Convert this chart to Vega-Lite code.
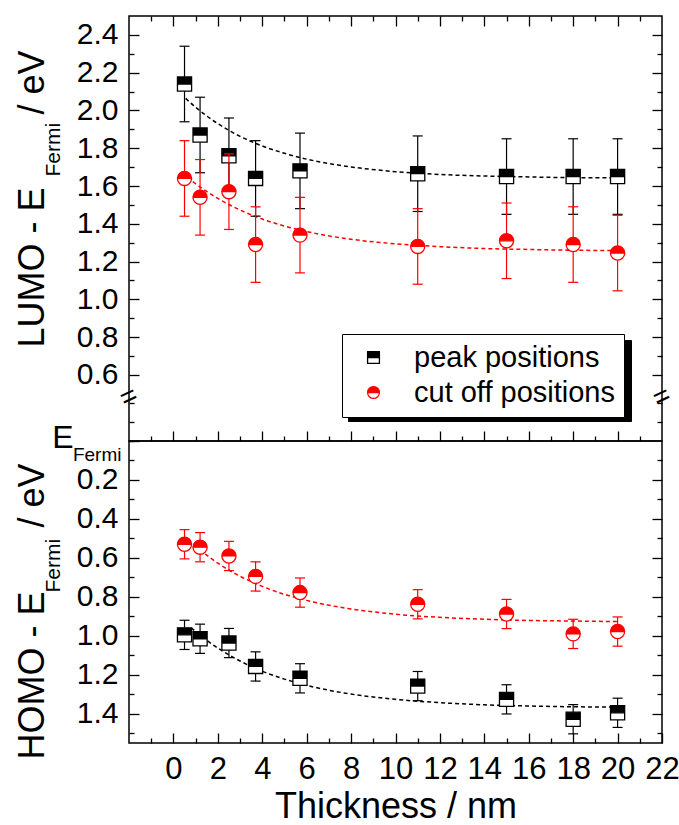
{
  "$schema": "https://vega.github.io/schema/vega-lite/v6.json",
  "padding": {"left": 13, "top": 14, "right": 5, "bottom": 0},
  "spacing": 0,
  "bounds": "flush",
  "config": {
    "font": "Liberation Sans",
    "view": {"stroke": "black", "strokeWidth": 1.5},
    "axis": {"tickColor": "black", "tickWidth": 1.3, "labelColor": "black", "titleColor": "black", "titleFontWeight": "normal", "labelFont": "Liberation Sans", "titleFont": "Liberation Sans", "grid": false, "domain": false, "labelOverlap": false}
  },
  "datasets": {
    "lumo": [
      {"series": "peak positions", "x": 0.5, "y": 2.14, "lo": 1.94, "hi": 2.34},
      {"series": "peak positions", "x": 1.2, "y": 1.87, "lo": 1.67, "hi": 2.07},
      {"series": "peak positions", "x": 2.5, "y": 1.76, "lo": 1.56, "hi": 1.96},
      {"series": "peak positions", "x": 3.7, "y": 1.64, "lo": 1.44, "hi": 1.84},
      {"series": "peak positions", "x": 5.7, "y": 1.68, "lo": 1.48, "hi": 1.88},
      {"series": "peak positions", "x": 11, "y": 1.665, "lo": 1.465, "hi": 1.865},
      {"series": "peak positions", "x": 15, "y": 1.65, "lo": 1.45, "hi": 1.85},
      {"series": "peak positions", "x": 18, "y": 1.65, "lo": 1.45, "hi": 1.85},
      {"series": "peak positions", "x": 20, "y": 1.65, "lo": 1.45, "hi": 1.85},
      {"series": "cut off positions", "x": 0.5, "y": 1.64, "lo": 1.44, "hi": 1.84},
      {"series": "cut off positions", "x": 1.2, "y": 1.54, "lo": 1.34, "hi": 1.74},
      {"series": "cut off positions", "x": 2.5, "y": 1.57, "lo": 1.37, "hi": 1.77},
      {"series": "cut off positions", "x": 3.7, "y": 1.29, "lo": 1.09, "hi": 1.49},
      {"series": "cut off positions", "x": 5.7, "y": 1.34, "lo": 1.14, "hi": 1.54},
      {"series": "cut off positions", "x": 11, "y": 1.28, "lo": 1.08, "hi": 1.48},
      {"series": "cut off positions", "x": 15, "y": 1.31, "lo": 1.11, "hi": 1.51},
      {"series": "cut off positions", "x": 18, "y": 1.29, "lo": 1.09, "hi": 1.49},
      {"series": "cut off positions", "x": 20, "y": 1.245, "lo": 1.045, "hi": 1.445}
    ],
    "homo": [
      {"series": "peak positions", "x": 0.5, "y": 0.995, "lo": 0.92, "hi": 1.07},
      {"series": "peak positions", "x": 1.2, "y": 1.015, "lo": 0.94, "hi": 1.09},
      {"series": "peak positions", "x": 2.5, "y": 1.037, "lo": 0.962, "hi": 1.112},
      {"series": "peak positions", "x": 3.7, "y": 1.157, "lo": 1.082, "hi": 1.232},
      {"series": "peak positions", "x": 5.7, "y": 1.218, "lo": 1.143, "hi": 1.293},
      {"series": "peak positions", "x": 11, "y": 1.258, "lo": 1.183, "hi": 1.333},
      {"series": "peak positions", "x": 15, "y": 1.326, "lo": 1.251, "hi": 1.401},
      {"series": "peak positions", "x": 18, "y": 1.428, "lo": 1.353, "hi": 1.503},
      {"series": "peak positions", "x": 20, "y": 1.395, "lo": 1.32, "hi": 1.47},
      {"series": "cut off positions", "x": 0.5, "y": 0.53, "lo": 0.455, "hi": 0.605},
      {"series": "cut off positions", "x": 1.2, "y": 0.545, "lo": 0.47, "hi": 0.62},
      {"series": "cut off positions", "x": 2.5, "y": 0.59, "lo": 0.515, "hi": 0.665},
      {"series": "cut off positions", "x": 3.7, "y": 0.695, "lo": 0.62, "hi": 0.77},
      {"series": "cut off positions", "x": 5.7, "y": 0.778, "lo": 0.703, "hi": 0.853},
      {"series": "cut off positions", "x": 11, "y": 0.838, "lo": 0.763, "hi": 0.913},
      {"series": "cut off positions", "x": 15, "y": 0.888, "lo": 0.813, "hi": 0.963},
      {"series": "cut off positions", "x": 18, "y": 0.99, "lo": 0.915, "hi": 1.065},
      {"series": "cut off positions", "x": 20, "y": 0.978, "lo": 0.903, "hi": 1.053}
    ],
    "lumofit": [
      {"series": "peak positions", "x": 0.55, "y": 2.064},
      {"series": "peak positions", "x": 1, "y": 2.017},
      {"series": "peak positions", "x": 1.5, "y": 1.971},
      {"series": "peak positions", "x": 2, "y": 1.93},
      {"series": "peak positions", "x": 3, "y": 1.863},
      {"series": "peak positions", "x": 4, "y": 1.812},
      {"series": "peak positions", "x": 5, "y": 1.773},
      {"series": "peak positions", "x": 6, "y": 1.742},
      {"series": "peak positions", "x": 7, "y": 1.719},
      {"series": "peak positions", "x": 8, "y": 1.701},
      {"series": "peak positions", "x": 10, "y": 1.676},
      {"series": "peak positions", "x": 12, "y": 1.661},
      {"series": "peak positions", "x": 14, "y": 1.653},
      {"series": "peak positions", "x": 16, "y": 1.648},
      {"series": "peak positions", "x": 18, "y": 1.644},
      {"series": "peak positions", "x": 20, "y": 1.643},
      {"series": "cut off positions", "x": 0.875, "y": 1.623},
      {"series": "cut off positions", "x": 1, "y": 1.612},
      {"series": "cut off positions", "x": 1.5, "y": 1.571},
      {"series": "cut off positions", "x": 2, "y": 1.534},
      {"series": "cut off positions", "x": 3, "y": 1.473},
      {"series": "cut off positions", "x": 4, "y": 1.425},
      {"series": "cut off positions", "x": 5, "y": 1.388},
      {"series": "cut off positions", "x": 6, "y": 1.359},
      {"series": "cut off positions", "x": 7, "y": 1.336},
      {"series": "cut off positions", "x": 8, "y": 1.318},
      {"series": "cut off positions", "x": 10, "y": 1.294},
      {"series": "cut off positions", "x": 12, "y": 1.279},
      {"series": "cut off positions", "x": 14, "y": 1.269},
      {"series": "cut off positions", "x": 16, "y": 1.264},
      {"series": "cut off positions", "x": 18, "y": 1.26},
      {"series": "cut off positions", "x": 20, "y": 1.258}
    ],
    "homofit": [
      {"series": "peak positions", "x": 0.8, "y": 0.959},
      {"series": "peak positions", "x": 1, "y": 0.978},
      {"series": "peak positions", "x": 1.5, "y": 1.023},
      {"series": "peak positions", "x": 2, "y": 1.063},
      {"series": "peak positions", "x": 3, "y": 1.129},
      {"series": "peak positions", "x": 4, "y": 1.182},
      {"series": "peak positions", "x": 5, "y": 1.222},
      {"series": "peak positions", "x": 6, "y": 1.254},
      {"series": "peak positions", "x": 7, "y": 1.279},
      {"series": "peak positions", "x": 8, "y": 1.299},
      {"series": "peak positions", "x": 10, "y": 1.326},
      {"series": "peak positions", "x": 12, "y": 1.343},
      {"series": "peak positions", "x": 14, "y": 1.354},
      {"series": "peak positions", "x": 16, "y": 1.36},
      {"series": "peak positions", "x": 18, "y": 1.364},
      {"series": "peak positions", "x": 20, "y": 1.366},
      {"series": "cut off positions", "x": 1.18, "y": 0.558},
      {"series": "cut off positions", "x": 1.5, "y": 0.586},
      {"series": "cut off positions", "x": 2, "y": 0.627},
      {"series": "cut off positions", "x": 3, "y": 0.694},
      {"series": "cut off positions", "x": 4, "y": 0.746},
      {"series": "cut off positions", "x": 5, "y": 0.787},
      {"series": "cut off positions", "x": 6, "y": 0.818},
      {"series": "cut off positions", "x": 7, "y": 0.843},
      {"series": "cut off positions", "x": 8, "y": 0.862},
      {"series": "cut off positions", "x": 10, "y": 0.889},
      {"series": "cut off positions", "x": 12, "y": 0.905},
      {"series": "cut off positions", "x": 14, "y": 0.915},
      {"series": "cut off positions", "x": 16, "y": 0.921},
      {"series": "cut off positions", "x": 18, "y": 0.924},
      {"series": "cut off positions", "x": 20, "y": 0.927}
    ]
  },
  "vconcat": [
    {
      "width": 533,
      "height": 425,
      "resolve": {"axis": {"x": "independent", "y": "independent"}},
      "layer": [
        {
          "data": {"name": "lumofit"},
          "transform": [{"filter": {"field": "series", "equal": "peak positions"}}],
          "mark": {"type": "line", "color": "black", "strokeDash": [4, 3], "strokeWidth": 1.5, "interpolate": "monotone"},
          "encoding": {
            "x": {"field": "x", "type": "quantitative", "scale": {"domain": [-2, 22], "nice": false, "zero": false}, "axis": {"orient": "bottom", "values": [0, 2, 4, 6, 8, 10, 12, 14, 16, 18, 20], "tickSize": -10, "labels": false, "title": null}},
            "y": {"field": "y", "type": "quantitative", "scale": {"domain": [0.25, 2.5], "nice": false, "zero": false}, "axis": {"orient": "left", "values": [0.6, 0.8, 1.0, 1.2, 1.4, 1.6, 1.8, 2.0, 2.2, 2.4], "format": ".1f", "tickSize": -10, "labelFontSize": 30, "labelPadding": 21, "title": "LUMO - E", "titleFontSize": 36, "titleAngle": 270, "titleAlign": "left", "titleBaseline": "alphabetic", "titleX": -86, "titleY": 331}}
          }
        },
        {
          "data": {"name": "lumofit"},
          "transform": [{"filter": {"field": "series", "equal": "cut off positions"}}],
          "mark": {"type": "line", "color": "#ff0000", "strokeDash": [4, 3], "strokeWidth": 1.5, "interpolate": "monotone"},
          "encoding": {
            "x": {"field": "x", "type": "quantitative", "scale": {"domain": [-2, 22], "nice": false, "zero": false}, "axis": {"orient": "bottom", "values": [-1, 1, 3, 5, 7, 9, 11, 13, 15, 17, 19, 21], "tickSize": -5, "labels": false, "title": null}},
            "y": {"field": "y", "type": "quantitative", "scale": {"domain": [0.25, 2.5], "nice": false, "zero": false}, "axis": {"orient": "left", "values": [0.35, 0.45, 0.7, 0.9, 1.1, 1.3, 1.5, 1.7, 1.9, 2.1, 2.3], "tickSize": -5, "labels": false, "title": "Fermi", "titleFontSize": 21, "titleAngle": 270, "titleAlign": "left", "titleBaseline": "alphabetic", "titleX": -70, "titleY": 160}}
          }
        },
        {
          "data": {"name": "lumo"},
          "transform": [{"filter": {"field": "series", "equal": "peak positions"}}],
          "mark": {"type": "rule", "color": "black", "strokeWidth": 1.2},
          "encoding": {
            "x": {"field": "x", "type": "quantitative", "scale": {"domain": [-2, 22], "nice": false, "zero": false}, "axis": {"orient": "top", "values": [0, 2, 4, 6, 8, 10, 12, 14, 16, 18, 20], "tickSize": -10, "labels": false, "title": null}},
            "y": {"field": "lo", "type": "quantitative", "scale": {"domain": [0.25, 2.5], "nice": false, "zero": false}, "axis": {"orient": "left", "ticks": false, "labels": false, "title": "/ eV", "titleFontSize": 36, "titleAngle": 270, "titleAlign": "left", "titleBaseline": "alphabetic", "titleX": -86, "titleY": 98}},
            "y2": {"field": "hi"}
          }
        },
        {
          "data": {"name": "lumo"},
          "transform": [{"filter": {"field": "series", "equal": "peak positions"}}],
          "mark": {"type": "tick", "orient": "horizontal", "color": "black", "size": 10, "thickness": 1.2, "opacity": 1},
          "encoding": {
            "x": {"field": "x", "type": "quantitative", "scale": {"domain": [-2, 22], "nice": false, "zero": false}, "axis": {"orient": "top", "values": [-1, 1, 3, 5, 7, 9, 11, 13, 15, 17, 19, 21], "tickSize": -5, "labels": false, "title": null}},
            "y": {"field": "lo", "type": "quantitative", "scale": {"domain": [0.25, 2.5], "nice": false, "zero": false}, "axis": {"orient": "right", "values": [0.6, 0.8, 1.0, 1.2, 1.4, 1.6, 1.8, 2.0, 2.2, 2.4], "tickSize": -10, "labels": false, "title": null}}
          }
        },
        {
          "data": {"name": "lumo"},
          "transform": [{"filter": {"field": "series", "equal": "peak positions"}}],
          "mark": {"type": "tick", "orient": "horizontal", "color": "black", "size": 10, "thickness": 1.2, "opacity": 1},
          "encoding": {
            "x": {"field": "x", "type": "quantitative", "scale": {"domain": [-2, 22], "nice": false, "zero": false}, "axis": null},
            "y": {"field": "hi", "type": "quantitative", "scale": {"domain": [0.25, 2.5], "nice": false, "zero": false}, "axis": {"orient": "right", "values": [0.35, 0.45, 0.7, 0.9, 1.1, 1.3, 1.5, 1.7, 1.9, 2.1, 2.3], "tickSize": -5, "labels": false, "title": null}}
          }
        },
        {
          "data": {"name": "lumo"},
          "transform": [{"filter": {"field": "series", "equal": "peak positions"}}],
          "mark": {"type": "point", "shape": "square", "filled": true, "fill": "white", "strokeOpacity": 0, "opacity": 1, "size": 200},
          "encoding": {
            "x": {"field": "x", "type": "quantitative", "axis": null},
            "y": {"field": "y", "type": "quantitative", "axis": null}
          }
        },
        {
          "data": {"name": "lumo"},
          "transform": [{"filter": {"field": "series", "equal": "peak positions"}}],
          "mark": {"type": "point", "filled": true, "opacity": 1, "size": 200, "strokeWidth": 1.3},
          "encoding": {
            "x": {"field": "x", "type": "quantitative", "axis": null},
            "y": {"field": "y", "type": "quantitative", "axis": null},
            "fill": {"field": "series", "type": "nominal", "scale": {"domain": ["peak positions", "cut off positions"], "range": ["black", "#ff0000"]}, "legend": {"title": null, "orient": "none", "legendX": 219, "legendY": 324, "fillColor": "black", "strokeColor": "black", "labelColor": "black", "labelExpr": "' '", "padding": 9, "rowPadding": 3, "labelOffset": 228, "symbolOffset": 8, "labelLimit": 400, "labelFontSize": 29, "symbolSize": 140, "symbolStrokeWidth": 1.3, "symbolOpacity": 1}},
            "stroke": {"field": "series", "type": "nominal", "scale": {"domain": ["peak positions", "cut off positions"], "range": ["black", "#ff0000"]}, "legend": {"title": null, "orient": "none", "legendX": 219, "legendY": 324, "fillColor": "black", "strokeColor": "black", "labelColor": "black", "labelExpr": "' '", "padding": 9, "rowPadding": 3, "labelOffset": 228, "symbolOffset": 8, "labelLimit": 400, "labelFontSize": 29, "symbolSize": 140, "symbolStrokeWidth": 1.3, "symbolOpacity": 1}},
            "shape": {"field": "series", "type": "nominal", "scale": {"domain": ["peak positions", "cut off positions"], "range": ["M-1,-1H1V1H-1Z M-1,0V1H1V0Z", "M-1,0A1,1,0,1,1,1,0A1,1,0,1,1,-1,0Z M-1,0A1,1,0,0,0,1,0Z"]}, "legend": {"title": null, "orient": "none", "legendX": 219, "legendY": 324, "fillColor": "black", "strokeColor": "black", "labelColor": "black", "labelExpr": "' '", "padding": 9, "rowPadding": 3, "labelOffset": 228, "symbolOffset": 8, "labelLimit": 400, "labelFontSize": 29, "symbolSize": 140, "symbolStrokeWidth": 1.3, "symbolOpacity": 1}}
          }
        },
        {
          "data": {"name": "lumo"},
          "transform": [{"filter": {"field": "series", "equal": "cut off positions"}}],
          "mark": {"type": "rule", "color": "#ff0000", "strokeWidth": 1.2},
          "encoding": {
            "x": {"field": "x", "type": "quantitative", "axis": null},
            "y": {"field": "lo", "type": "quantitative", "axis": null},
            "y2": {"field": "hi"}
          }
        },
        {
          "data": {"name": "lumo"},
          "transform": [{"filter": {"field": "series", "equal": "cut off positions"}}],
          "mark": {"type": "tick", "orient": "horizontal", "color": "#ff0000", "size": 10, "thickness": 1.2, "opacity": 1},
          "encoding": {
            "x": {"field": "x", "type": "quantitative", "axis": null},
            "y": {"field": "lo", "type": "quantitative", "axis": null}
          }
        },
        {
          "data": {"name": "lumo"},
          "transform": [{"filter": {"field": "series", "equal": "cut off positions"}}],
          "mark": {"type": "tick", "orient": "horizontal", "color": "#ff0000", "size": 10, "thickness": 1.2, "opacity": 1},
          "encoding": {
            "x": {"field": "x", "type": "quantitative", "axis": null},
            "y": {"field": "hi", "type": "quantitative", "axis": null}
          }
        },
        {
          "data": {"name": "lumo"},
          "transform": [{"filter": {"field": "series", "equal": "cut off positions"}}],
          "mark": {"type": "point", "shape": "circle", "filled": true, "fill": "white", "strokeOpacity": 0, "opacity": 1, "size": 200},
          "encoding": {
            "x": {"field": "x", "type": "quantitative", "axis": null},
            "y": {"field": "y", "type": "quantitative", "axis": null}
          }
        },
        {
          "data": {"name": "lumo"},
          "transform": [{"filter": {"field": "series", "equal": "cut off positions"}}],
          "mark": {"type": "point", "filled": true, "opacity": 1, "size": 200, "strokeWidth": 1.3},
          "encoding": {
            "x": {"field": "x", "type": "quantitative", "axis": null},
            "y": {"field": "y", "type": "quantitative", "axis": null},
            "fill": {"field": "series", "type": "nominal", "scale": {"domain": ["peak positions", "cut off positions"], "range": ["black", "#ff0000"]}, "legend": {"title": null, "orient": "none", "legendX": 219, "legendY": 324, "fillColor": "black", "strokeColor": "black", "labelColor": "black", "labelExpr": "' '", "padding": 9, "rowPadding": 3, "labelOffset": 228, "symbolOffset": 8, "labelLimit": 400, "labelFontSize": 29, "symbolSize": 140, "symbolStrokeWidth": 1.3, "symbolOpacity": 1}},
            "stroke": {"field": "series", "type": "nominal", "scale": {"domain": ["peak positions", "cut off positions"], "range": ["black", "#ff0000"]}, "legend": {"title": null, "orient": "none", "legendX": 219, "legendY": 324, "fillColor": "black", "strokeColor": "black", "labelColor": "black", "labelExpr": "' '", "padding": 9, "rowPadding": 3, "labelOffset": 228, "symbolOffset": 8, "labelLimit": 400, "labelFontSize": 29, "symbolSize": 140, "symbolStrokeWidth": 1.3, "symbolOpacity": 1}},
            "shape": {"field": "series", "type": "nominal", "scale": {"domain": ["peak positions", "cut off positions"], "range": ["M-1,-1H1V1H-1Z M-1,0V1H1V0Z", "M-1,0A1,1,0,1,1,1,0A1,1,0,1,1,-1,0Z M-1,0A1,1,0,0,0,1,0Z"]}, "legend": {"title": null, "orient": "none", "legendX": 219, "legendY": 324, "fillColor": "black", "strokeColor": "black", "labelColor": "black", "labelExpr": "' '", "padding": 9, "rowPadding": 3, "labelOffset": 228, "symbolOffset": 8, "labelLimit": 400, "labelFontSize": 29, "symbolSize": 140, "symbolStrokeWidth": 1.3, "symbolOpacity": 1}}
          }
        },
        {
          "data": {"values": [{}]},
          "mark": {"type": "text", "text": "=", "fontSize": 28, "angle": -25, "align": "center", "baseline": "middle", "color": "black"},
          "encoding": {
            "x": {"datum": -2, "type": "quantitative", "axis": null},
            "y": {"datum": 0.48, "type": "quantitative", "axis": null}
          }
        },
        {
          "data": {"values": [{}]},
          "mark": {"type": "text", "text": "=", "fontSize": 28, "angle": -25, "align": "center", "baseline": "middle", "color": "black"},
          "encoding": {
            "x": {"datum": 22, "type": "quantitative", "axis": null},
            "y": {"datum": 0.48, "type": "quantitative", "axis": null}
          }
        }
      ]
    },
    {
      "width": 533,
      "height": 302,
      "resolve": {"axis": {"x": "independent", "y": "independent"}},
      "layer": [
        {
          "data": {"name": "homofit"},
          "transform": [{"filter": {"field": "series", "equal": "peak positions"}}],
          "mark": {"type": "line", "color": "black", "strokeDash": [4, 3], "strokeWidth": 1.5, "interpolate": "monotone"},
          "encoding": {
            "x": {"field": "x", "type": "quantitative", "scale": {"domain": [-2, 22], "nice": false, "zero": false}, "axis": {"orient": "bottom", "values": [0, 2, 4, 6, 8, 10, 12, 14, 16, 18, 20, 22], "tickSize": -10, "labelFontSize": 31, "labelPadding": 21.7, "labelFlush": false, "title": "Thickness / nm", "titleFontSize": 36, "titlePadding": 5}},
            "y": {"field": "y", "type": "quantitative", "scale": {"domain": [0, 1.55], "nice": false, "zero": false, "reverse": true}, "axis": {"orient": "left", "values": [0, 0.2, 0.4, 0.6, 0.8, 1.0, 1.2, 1.4], "labelExpr": "datum.value == 0 ? 'E' : format(datum.value, '.1f')", "tickSize": -10, "labelFontSize": {"condition": {"test": "datum.value == 0", "value": 32}, "value": 30}, "labelPadding": {"condition": {"test": "datum.value == 0", "value": 66}, "value": 21}, "labelOffset": {"condition": {"test": "datum.value == 0", "value": -4}, "value": 0}, "title": "HOMO - E", "titleFontSize": 36, "titleAngle": 270, "titleAlign": "left", "titleBaseline": "alphabetic", "titleX": -86, "titleY": 318}}
          }
        },
        {
          "data": {"name": "homofit"},
          "transform": [{"filter": {"field": "series", "equal": "cut off positions"}}],
          "mark": {"type": "line", "color": "#ff0000", "strokeDash": [4, 3], "strokeWidth": 1.5, "interpolate": "monotone"},
          "encoding": {
            "x": {"field": "x", "type": "quantitative", "scale": {"domain": [-2, 22], "nice": false, "zero": false}, "axis": {"orient": "bottom", "values": [-1, 1, 3, 5, 7, 9, 11, 13, 15, 17, 19, 21], "tickSize": -5, "labels": false, "title": null}},
            "y": {"field": "y", "type": "quantitative", "scale": {"domain": [0, 1.55], "nice": false, "zero": false, "reverse": true}, "axis": {"orient": "left", "values": [0, 0.1, 0.3, 0.5, 0.7, 0.9, 1.1, 1.3, 1.5], "tickSize": -5, "labelExpr": "datum.value == 0 ? 'Fermi' : ''", "labelFontSize": 19, "labelPadding": 13, "labelBaseline": "alphabetic", "labelOffset": 19, "title": "Fermi", "titleFontSize": 21, "titleAngle": 270, "titleAlign": "left", "titleBaseline": "alphabetic", "titleX": -70, "titleY": 151}}
          }
        },
        {
          "data": {"name": "homo"},
          "transform": [{"filter": {"field": "series", "equal": "peak positions"}}],
          "mark": {"type": "rule", "color": "black", "strokeWidth": 1.2},
          "encoding": {
            "x": {"field": "x", "type": "quantitative", "axis": null},
            "y": {"field": "lo", "type": "quantitative", "scale": {"domain": [0, 1.55], "nice": false, "zero": false, "reverse": true}, "axis": {"orient": "left", "ticks": false, "labels": false, "title": "/ eV", "titleFontSize": 36, "titleAngle": 270, "titleAlign": "left", "titleBaseline": "alphabetic", "titleX": -86, "titleY": 86}},
            "y2": {"field": "hi"}
          }
        },
        {
          "data": {"name": "homo"},
          "transform": [{"filter": {"field": "series", "equal": "peak positions"}}],
          "mark": {"type": "tick", "orient": "horizontal", "color": "black", "size": 10, "thickness": 1.2, "opacity": 1},
          "encoding": {
            "x": {"field": "x", "type": "quantitative", "axis": null},
            "y": {"field": "lo", "type": "quantitative", "axis": {"orient": "right", "values": [0.2, 0.4, 0.6, 0.8, 1.0, 1.2, 1.4], "tickSize": -10, "labels": false, "title": null}}
          }
        },
        {
          "data": {"name": "homo"},
          "transform": [{"filter": {"field": "series", "equal": "peak positions"}}],
          "mark": {"type": "tick", "orient": "horizontal", "color": "black", "size": 10, "thickness": 1.2, "opacity": 1},
          "encoding": {
            "x": {"field": "x", "type": "quantitative", "axis": null},
            "y": {"field": "hi", "type": "quantitative", "axis": {"orient": "right", "values": [0.1, 0.3, 0.5, 0.7, 0.9, 1.1, 1.3, 1.5], "tickSize": -5, "labels": false, "title": null}}
          }
        },
        {
          "data": {"name": "homo"},
          "transform": [{"filter": {"field": "series", "equal": "peak positions"}}],
          "mark": {"type": "point", "shape": "square", "filled": true, "fill": "white", "strokeOpacity": 0, "opacity": 1, "size": 200},
          "encoding": {
            "x": {"field": "x", "type": "quantitative", "axis": null},
            "y": {"field": "y", "type": "quantitative", "axis": null}
          }
        },
        {
          "data": {"name": "homo"},
          "transform": [{"filter": {"field": "series", "equal": "peak positions"}}],
          "mark": {"type": "point", "filled": true, "opacity": 1, "size": 200, "strokeWidth": 1.3},
          "encoding": {
            "x": {"field": "x", "type": "quantitative", "axis": null},
            "y": {"field": "y", "type": "quantitative", "axis": null},
            "fill": {"field": "series", "type": "nominal", "scale": {"domain": ["peak positions", "cut off positions"], "range": ["black", "#ff0000"]}, "legend": {"title": null, "orient": "none", "legendX": 213, "legendY": -107, "fillColor": "white", "strokeColor": "black", "labelColor": "black", "padding": 9, "rowPadding": 5, "labelOffset": 26, "symbolOffset": 8, "labelLimit": 400, "labelFontSize": 29, "symbolSize": 140, "symbolStrokeWidth": 1.3, "symbolOpacity": 1}},
            "stroke": {"field": "series", "type": "nominal", "scale": {"domain": ["peak positions", "cut off positions"], "range": ["black", "#ff0000"]}, "legend": {"title": null, "orient": "none", "legendX": 213, "legendY": -107, "fillColor": "white", "strokeColor": "black", "labelColor": "black", "padding": 9, "rowPadding": 5, "labelOffset": 26, "symbolOffset": 8, "labelLimit": 400, "labelFontSize": 29, "symbolSize": 140, "symbolStrokeWidth": 1.3, "symbolOpacity": 1}},
            "shape": {"field": "series", "type": "nominal", "scale": {"domain": ["peak positions", "cut off positions"], "range": ["M-1,-1H1V1H-1Z M-1,0V1H1V0Z", "M-1,0A1,1,0,1,1,1,0A1,1,0,1,1,-1,0Z M-1,0A1,1,0,0,0,1,0Z"]}, "legend": {"title": null, "orient": "none", "legendX": 213, "legendY": -107, "fillColor": "white", "strokeColor": "black", "labelColor": "black", "padding": 9, "rowPadding": 5, "labelOffset": 26, "symbolOffset": 8, "labelLimit": 400, "labelFontSize": 29, "symbolSize": 140, "symbolStrokeWidth": 1.3, "symbolOpacity": 1}}
          }
        },
        {
          "data": {"name": "homo"},
          "transform": [{"filter": {"field": "series", "equal": "cut off positions"}}],
          "mark": {"type": "rule", "color": "#ff0000", "strokeWidth": 1.2},
          "encoding": {
            "x": {"field": "x", "type": "quantitative", "axis": null},
            "y": {"field": "lo", "type": "quantitative", "axis": null},
            "y2": {"field": "hi"}
          }
        },
        {
          "data": {"name": "homo"},
          "transform": [{"filter": {"field": "series", "equal": "cut off positions"}}],
          "mark": {"type": "tick", "orient": "horizontal", "color": "#ff0000", "size": 10, "thickness": 1.2, "opacity": 1},
          "encoding": {
            "x": {"field": "x", "type": "quantitative", "axis": null},
            "y": {"field": "lo", "type": "quantitative", "axis": null}
          }
        },
        {
          "data": {"name": "homo"},
          "transform": [{"filter": {"field": "series", "equal": "cut off positions"}}],
          "mark": {"type": "tick", "orient": "horizontal", "color": "#ff0000", "size": 10, "thickness": 1.2, "opacity": 1},
          "encoding": {
            "x": {"field": "x", "type": "quantitative", "axis": null},
            "y": {"field": "hi", "type": "quantitative", "axis": null}
          }
        },
        {
          "data": {"name": "homo"},
          "transform": [{"filter": {"field": "series", "equal": "cut off positions"}}],
          "mark": {"type": "point", "shape": "circle", "filled": true, "fill": "white", "strokeOpacity": 0, "opacity": 1, "size": 200},
          "encoding": {
            "x": {"field": "x", "type": "quantitative", "axis": null},
            "y": {"field": "y", "type": "quantitative", "axis": null}
          }
        },
        {
          "data": {"name": "homo"},
          "transform": [{"filter": {"field": "series", "equal": "cut off positions"}}],
          "mark": {"type": "point", "filled": true, "opacity": 1, "size": 200, "strokeWidth": 1.3},
          "encoding": {
            "x": {"field": "x", "type": "quantitative", "axis": null},
            "y": {"field": "y", "type": "quantitative", "axis": null},
            "fill": {"field": "series", "type": "nominal", "scale": {"domain": ["peak positions", "cut off positions"], "range": ["black", "#ff0000"]}, "legend": {"title": null, "orient": "none", "legendX": 213, "legendY": -107, "fillColor": "white", "strokeColor": "black", "labelColor": "black", "padding": 9, "rowPadding": 5, "labelOffset": 26, "symbolOffset": 8, "labelLimit": 400, "labelFontSize": 29, "symbolSize": 140, "symbolStrokeWidth": 1.3, "symbolOpacity": 1}},
            "stroke": {"field": "series", "type": "nominal", "scale": {"domain": ["peak positions", "cut off positions"], "range": ["black", "#ff0000"]}, "legend": {"title": null, "orient": "none", "legendX": 213, "legendY": -107, "fillColor": "white", "strokeColor": "black", "labelColor": "black", "padding": 9, "rowPadding": 5, "labelOffset": 26, "symbolOffset": 8, "labelLimit": 400, "labelFontSize": 29, "symbolSize": 140, "symbolStrokeWidth": 1.3, "symbolOpacity": 1}},
            "shape": {"field": "series", "type": "nominal", "scale": {"domain": ["peak positions", "cut off positions"], "range": ["M-1,-1H1V1H-1Z M-1,0V1H1V0Z", "M-1,0A1,1,0,1,1,1,0A1,1,0,1,1,-1,0Z M-1,0A1,1,0,0,0,1,0Z"]}, "legend": {"title": null, "orient": "none", "legendX": 213, "legendY": -107, "fillColor": "white", "strokeColor": "black", "labelColor": "black", "padding": 9, "rowPadding": 5, "labelOffset": 26, "symbolOffset": 8, "labelLimit": 400, "labelFontSize": 29, "symbolSize": 140, "symbolStrokeWidth": 1.3, "symbolOpacity": 1}}
          }
        }
      ]
    }
  ],
  "resolve": {
    "scale": {"fill": "independent", "stroke": "independent", "shape": "independent"},
    "legend": {"fill": "independent", "stroke": "independent", "shape": "independent"}
  }
}
